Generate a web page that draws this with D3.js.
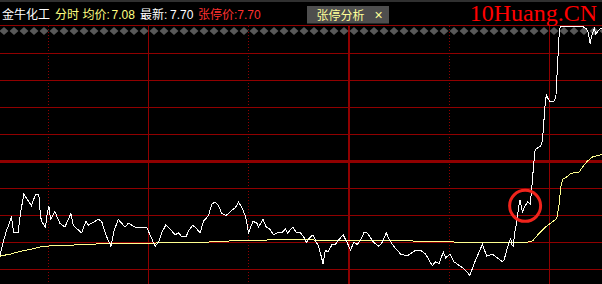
<!DOCTYPE html>
<html>
<head>
<meta charset="utf-8">
<script src="https://cdn.jsdelivr.net/npm/d3@7"></script>
<style>
  body { margin: 0; background: #000; overflow: hidden; }
  svg { display: block; }
  text { font-family: "Liberation Sans", "Noto Sans CJK SC", sans-serif; font-size: 12px; }
</style>
</head>
<body>
<svg id="chart" width="602" height="284"></svg>
<script>
// quote header
var stockName = "金牛化工";
var prevClose = 7.00;
var avgPrice = 7.08;
var lastPrice = 7.70;
var limitUp = 7.70;

// minutes since 9:30, 30-min grid lines (11:30 = 120)
var timeGrid = [30, 60, 90, 120, 150, 180];

// price line [minute, price]
var priceLine = [
  [15.4,6.51],[16.4,6.58],[17.4,6.64],[18.9,6.71],[19.6,6.63],[20.9,6.63],[21.6,6.73],[22.6,6.83],
  [23.4,6.81],[24.9,6.77],[26.1,6.83],[27.1,6.83],[27.6,6.72],[27.9,6.69],[29.1,6.66],[29.6,6.73],
  [30.1,6.77],[30.6,6.70],[31.9,6.74],[33.4,6.68],[34.9,6.66],[36.7,6.73],[37.4,6.67],[38.6,6.65],
  [39.9,6.63],[41.2,6.69],[41.9,6.67],[42.9,6.68],[44.9,6.70],[45.9,6.69],[47.4,6.61],[48.7,6.56],
  [49.6,6.64],[50.9,6.70],[52.9,6.66],[53.9,6.68],[55.9,6.66],[59.4,6.66],[60.4,6.62],[61.9,6.56],
  [62.9,6.58],[63.9,6.63],[65.1,6.67],[66.4,6.65],[67.9,6.62],[68.9,6.63],[69.9,6.61],[71.2,6.61],
  [71.9,6.64],[73.2,6.67],[74.4,6.65],[75.4,6.63],[76.4,6.69],[77.9,6.72],[78.9,6.78],[79.9,6.79],
  [80.9,6.77],[81.9,6.73],[83.2,6.72],[84.4,6.74],[85.9,6.76],[86.9,6.79],[87.9,6.76],[88.9,6.72],
  [89.4,6.68],[89.9,6.63],[91.2,6.69],[92.4,6.68],[92.9,6.66],[94.2,6.70],[95.2,6.66],[96.2,6.65],
  [97.4,6.62],[98.6,6.63],[99.9,6.63],[100.9,6.65],[101.6,6.63],[103.2,6.66],[104.2,6.63],[105.4,6.63],
  [106.4,6.61],[107.2,6.58],[107.9,6.60],[109.2,6.62],[110.2,6.58],[110.9,6.56],[112.2,6.47],[112.9,6.54],
  [113.7,6.53],[114.9,6.57],[115.9,6.57],[116.7,6.59],[118.2,6.62],[119.4,6.58],[120.4,6.54],[121.4,6.58],
  [122.4,6.57],[123.4,6.59],[124.4,6.63],[125.4,6.63],[127.4,6.58],[128.9,6.56],[129.9,6.58],[131.1,6.63],
  [132.2,6.59],[133.4,6.56],[135.4,6.52],[137.4,6.51],[139.9,6.54],[141.4,6.54],[142.9,6.52],[144.9,6.46],
  [145.9,6.48],[146.9,6.47],[148.2,6.53],[148.9,6.50],[150.2,6.52],[151.4,6.48],[153.9,6.45],[156.2,6.41],
  [157.4,6.47],[159.9,6.57],[161.2,6.51],[162.9,6.52],[164.4,6.50],[165.9,6.48],[166.4,6.49],[167.2,6.54],
  [167.9,6.58],[168.4,6.60],[168.7,6.57],[169.1,6.56],[169.6,6.63],[170.2,6.69],[170.9,6.78],[171.2,6.80],
  [171.9,6.74],[172.7,6.77],[173.4,6.79],[174.2,6.78],[174.6,6.84],[175.1,6.95],[175.4,7.01],[175.7,7.06],
  [176.4,7.07],[177.4,7.08],[177.9,7.11],[178.2,7.18],[178.7,7.30],[179.1,7.35],[179.4,7.33],[180.2,7.31],
  [181.2,7.31],[181.9,7.33],[182.4,7.50],[182.9,7.66],[183.2,7.70],[189.9,7.70],[190.9,7.69],[191.6,7.67],
  [192.2,7.61],[192.6,7.65],[193.4,7.69],[193.9,7.66],[194.6,7.68],[195.4,7.69],[196.0,7.69]
];

// average price line [minute, price]
var avgLine = [
  [15.4,6.509],[16.4,6.513],[18.4,6.519],[21.4,6.533],[24.4,6.544],[26.8,6.554],[28.3,6.560],[32.5,6.564],
  [39.4,6.568],[47.5,6.575],[66.4,6.578],[79.3,6.583],[84.4,6.588],[102.4,6.596],[111.4,6.592],[135.4,6.590],
  [143.5,6.585],[153.4,6.582],[168.4,6.578],[172.3,6.578],[174.9,6.588],[176.4,6.618],[178.9,6.661],[180.9,6.687],
  [182.2,6.704],[182.9,6.782],[183.4,6.868],[183.9,6.907],[184.9,6.917],[186.4,6.938],[188.9,6.946],[189.9,6.972],
  [191.4,7.003],[192.9,7.024],[196.0,7.038]
];

// the marked point
var markPoint = [172.7, 6.77];

var W = 602, H = 284;
var svg = d3.select("#chart");

var x = d3.scaleLinear().domain([0, 240]).range([-51.7, 749.9]);
var y = d3.scaleLinear().domain([prevClose * 0.9, limitUp]).range([296.5, 26.5]);

svg.append("rect").attr("width", W).attr("height", H).attr("fill", "#000");

// top strip
svg.append("rect").attr("x", 0).attr("y", 0).attr("width", W).attr("height", 2).attr("fill", "#303030");

// horizontal grid, 2% steps
var step = prevClose * 0.02;
var priceGrid = d3.range(1, 10).map(function(i) { return prevClose * 0.9 + step * i; });
svg.append("g").selectAll("line")
  .data(priceGrid).enter()
  .append("line")
  .attr("x1", 0).attr("x2", W)
  .attr("y1", function(d) { return y(d); })
  .attr("y2", function(d) { return y(d); })
  .attr("stroke", "#900000")
  .attr("stroke-width", function(d) { return Math.abs(d - prevClose) < 1e-6 ? 3 : 1; })
  .attr("shape-rendering", "crispEdges");

// top border
svg.append("line").attr("x1", 0).attr("x2", W).attr("y1", 25.5).attr("y2", 25.5)
  .attr("stroke", "#900000").attr("shape-rendering", "crispEdges");

// vertical grid
svg.append("g").selectAll("line")
  .data(timeGrid).enter()
  .append("line")
  .attr("x1", function(d) { return x(d); })
  .attr("x2", function(d) { return x(d); })
  .attr("y1", 26).attr("y2", H)
  .attr("stroke", "#900000")
  .attr("stroke-width", function(d) { return d === 120 ? 2 : 1; })
  .attr("stroke-dasharray", function(d) { return d % 60 === 30 ? "1,2" : null; })
  .attr("shape-rendering", "crispEdges");

// diamond row under the top border
svg.append("g").selectAll("path")
  .data(d3.range(0, 61)).enter()
  .append("path")
  .attr("d", function(i) {
    var cx = 4 + i * 10, cy = 31;
    return "M" + (cx - 4.5) + "," + cy + "L" + cx + "," + (cy - 4) + "L" + (cx + 4.5) + "," + cy + "L" + cx + "," + (cy + 4) + "Z";
  })
  .attr("fill", "#585858");

var line = d3.line()
  .x(function(d) { return x(d[0]); })
  .y(function(d) { return y(d[1]); });

svg.append("path").datum(avgLine)
  .attr("d", line).attr("fill", "none")
  .attr("stroke", "#ffff90").attr("stroke-width", 1)
  .attr("shape-rendering", "crispEdges");

svg.append("path").datum(priceLine)
  .attr("d", line).attr("fill", "none")
  .attr("stroke", "#fff").attr("stroke-width", 1)
  .attr("shape-rendering", "crispEdges");

svg.append("circle")
  .attr("cx", x(markPoint[0])).attr("cy", y(markPoint[1]))
  .attr("r", 15.5)
  .attr("fill", "none").attr("stroke", "#f0241c").attr("stroke-width", 3);

// header
var head = svg.append("g");
head.append("text").attr("x", 2).attr("y", 19).attr("fill", "#fff").text(stockName);
head.append("text").attr("x", 55).attr("y", 19).attr("fill", "#ffff80").text("分时");
head.append("text").attr("x", 82.5).attr("y", 19).attr("fill", "#ffff80").text("均价:");
head.append("text").attr("x", 111.5).attr("y", 19).attr("fill", "#ffff80").text(avgPrice.toFixed(2));
head.append("text").attr("x", 140).attr("y", 19).attr("fill", "#fff").text("最新:");
head.append("text").attr("x", 170).attr("y", 19).attr("fill", "#fff").text(lastPrice.toFixed(2));
head.append("text").attr("x", 198).attr("y", 19).attr("fill", "#ff3030").text("张停价:" + limitUp.toFixed(2));

head.append("rect").attr("x", 307).attr("y", 6).attr("width", 82).attr("height", 17.5).attr("fill", "#4e4e4e");
head.append("text").attr("x", 316.5).attr("y", 20).attr("fill", "#ffff99").text("张停分析");
head.append("text").attr("x", 374.5).attr("y", 19.5).attr("fill", "#ffff99").style("font-size", "14px").text("×");

// watermark
svg.append("text")
  .attr("x", 597).attr("y", 21)
  .attr("text-anchor", "end")
  .style("font-family", "'Liberation Serif', serif")
  .style("font-size", "24px")
  .attr("fill", "#ff0000")
  .text("10Huang.CN");
</script>
</body>
</html>
